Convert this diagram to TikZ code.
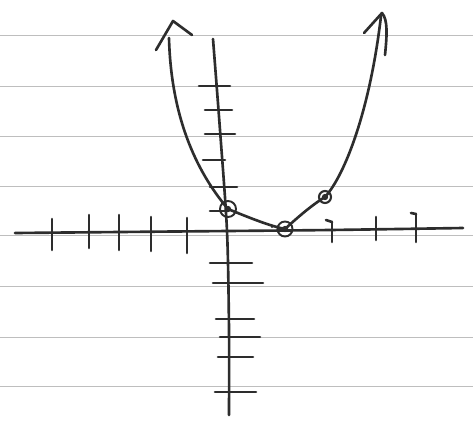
\documentclass[tikz,border=0pt]{standalone}
\definecolor{ink}{RGB}{45, 45, 45}
\definecolor{papier}{RGB}{190, 190, 190}

\begin{document}
\begin{tikzpicture}[x=0.02cm, y=-0.02cm, line cap=round, line join=round,
        kreska/.style={draw=ink, line width=1.5pt},
        linia/.style={draw=papier, line width=0.5pt},
        punkt/.style={circle, draw=ink, line width=1.1pt, inner sep=0pt, minimum size=3.2mm,
            path picture={\fill[ink] (path picture bounding box.center) circle (1.8pt);}},
        kropka/.style={circle, fill=ink, inner sep=0pt, minimum size=1.2pt}]

    \useasboundingbox (0,0) rectangle (473,423);
    \fill[white] (0,0) rectangle (473,423);

    % --- linie papieru ---
    \foreach \y in {35,86,136,186,235,286,337,386}
        \draw[linia] (0,\y) -- (473,\y);

    % --- osie ---
    \draw[kreska] plot[smooth] coordinates {(15,233) (120,232) (228,231) (330,230) (463,228)};
    \draw[kreska] plot[smooth] coordinates {(213,39) (220,130) (227,231) (229,330) (229,415)};

    % --- podziałka na osi x ---
    \foreach \x/\a/\b in {52/219/250, 89/215/248, 119/215/250, 151/217/251, 187/218/253,
                          332/222/242, 376/217/240, 416/214/242}
        \draw[kreska] (\x,\a) -- (\x,\b);
    \draw[kreska] (326,220) -- (332,222);
    \draw[kreska] (411,213) -- (416,214);

    % --- podziałka na osi y ---
    \foreach \y/\a/\b in {86/199/230, 110/205/232, 134/205/235, 160/203/225, 187/210/237,
                          211/210/228, 263/210/252, 283/213/263, 319/216/254, 337/220/260,
                          357/218/253, 392/215/256}
        \draw[kreska] (\a,\y) -- (\b,\y);

    % --- parabola ---
    \draw[kreska] (169,38) .. controls (171,115) and (195,170) .. (228,209)
        .. controls (250,218) and (270,226) .. (285,229)
        .. controls (298,217) and (312,205) .. (325,197)
        .. controls (345,175) and (370,110) .. (381,16);

    % --- groty ---
    \draw[kreska] (156,50) -- (173,21) -- (192,35);
    \draw[kreska] (364,33) -- (382,13) .. controls (388,20) and (387,35) .. (385,55);

    % --- punkty ---
    \node[punkt] (p1) at (228,209) {};
    \node[punkt, minimum size=3mm] (p2) at (285,229) {};
    \node[punkt, minimum size=2.4mm, line width=1.2pt] (p3) at (325,197) {};
    \node[kropka] (k) at (272,227) {};

\end{tikzpicture}
\end{document}
